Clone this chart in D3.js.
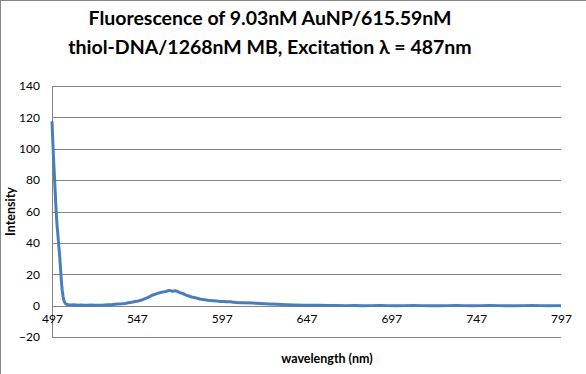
<!DOCTYPE html>
<html>
<head>
<meta charset="utf-8">
<script src="https://cdn.jsdelivr.net/npm/d3@7"></script>
<style>
  body { margin: 0; background: #fff; }
  text { font-family: Lato, "Open Sans", sans-serif; fill: #000; }
  .grid line { stroke: #868686; stroke-width: 1; }
</style>
</head>
<body>
<div class="chart"></div>
<script>

var titleLines = ["Fluorescence of 9.03nM AuNP/615.59nM", "thiol-DNA/1268nM MB, Excitation \u03bb = 487nm"];
var xTicks = [497, 547, 597, 647, 697, 747, 797];
var yTicks = [-20, 0, 20, 40, 60, 80, 100, 120, 140];

var wavelength = [
  497, 497.5, 498, 498.5, 499, 499.5, 500, 500.5, 501, 501.5, 502, 502.5, 503, 503.5, 504, 504.5, 505, 506, 507,
  508, 510, 512, 514, 516, 518, 520, 522, 524, 526, 528, 530, 532, 534, 536,
  538, 540, 542, 544, 546, 548, 550, 552, 554, 556, 558, 560, 562, 564, 566, 568, 570, 572, 574, 576, 578,
  580, 582, 584, 586, 588, 590, 592, 594, 596, 598, 600, 602, 604, 606, 608, 610,
  615, 620, 625, 630, 635, 640, 645, 650, 655, 660, 665, 670, 675, 680, 685, 690, 695, 700, 705, 710,
  715, 720, 725, 730, 735, 740, 745, 750, 755, 760, 765, 770, 775, 780, 785, 790, 795, 797
];
var intensity = [
  117.5, 104, 92, 81, 70, 59, 51, 45, 38, 32, 24, 16, 10, 6, 3.5, 2, 1.2, 0.7, 0.5,
  0.4, 0.5, 0.3, 0.4, 0.2, 0.3, 0.4, 0.2, 0.3, 0.3, 0.4, 0.5, 0.6, 0.9, 1.1,
  1.2, 1.4, 1.8, 2.1, 2.6, 3.0, 3.6, 4.5, 5.4, 6.6, 7.3, 8.1, 8.6, 9.0, 9.7, 9.2, 9.5, 8.4, 7.8, 6.7, 6.0,
  5.3, 4.9, 4.2, 3.9, 3.6, 3.2, 3.1, 2.9, 2.7, 2.6, 2.4, 2.4, 2.2, 2.0, 1.9, 1.8,
  1.6, 1.3, 1.0, 0.8, 0.6, 0.4, 0.3, 0.2, 0.2, 0.1, 0.1, 0.0, 0.1, -0.1, 0.0, 0.1, 0.0, -0.1, 0.0, 0.1,
  0.0, 0.0, -0.1, 0.0, 0.1, 0.0, -0.1, 0.0, 0.1, 0.0, 0.0, -0.1, 0.0, 0.1, 0.0, -0.1, 0.0, 0.0
];

var svgWidth = 586;
var svgHeight = 374;

var margin = { top: 86, right: 25, bottom: 37, left: 52 };
var width = 561 - margin.left;
var height = 337 - margin.top;

var svg = d3
  .select(".chart")
  .append("svg")
  .attr("width", svgWidth)
  .attr("height", svgHeight);

// chart border (only left and top show in the crop)
svg
  .append("rect")
  .attr("x", 0.5)
  .attr("y", 0.5)
  .attr("width", svgWidth + 20)
  .attr("height", svgHeight + 20)
  .attr("fill", "none")
  .attr("stroke", "#868686");

svg
  .selectAll(".title")
  .data(titleLines)
  .enter()
  .append("text")
  .attr("class", "title")
  .attr("x", 270)
  .attr("y", function(d, i) { return 25 + i * 29; })
  .attr("text-anchor", "middle")
  .style("font-weight", "bold")
  .style("font-size", "19.5px")
  .text(function(d) { return d; });

var chart = svg
  .append("g")
  .attr("transform", "translate(" + margin.left + "," + margin.top + ")");

var xScale = d3.scaleLinear().domain([497, 797]).range([0, width]);
var yScale = d3.scaleLinear().domain([-20, 140]).range([height, 0]);

// horizontal gridlines incl. the -20 line and the zero axis line
chart
  .append("g")
  .attr("class", "grid")
  .selectAll("line")
  .data(yTicks)
  .enter()
  .append("line")
  .attr("x1", 0)
  .attr("x2", width)
  .attr("y1", function(d) { return Math.round(yScale(d)) + 0.5; })
  .attr("y2", function(d) { return Math.round(yScale(d)) + 0.5; });

// vertical axis line
chart
  .append("line")
  .attr("x1", 0.5)
  .attr("x2", 0.5)
  .attr("y1", 0)
  .attr("y2", height)
  .attr("stroke", "#868686");

var leftAxis = d3.axisLeft(yScale).tickValues(yTicks).tickSize(0).tickPadding(12);
var bottomAxis = d3.axisBottom(xScale).tickValues(xTicks).tickSize(0).tickPadding(9);

var yAxisG = chart.append("g").call(leftAxis);
yAxisG.select(".domain").remove();
yAxisG.selectAll("text").style("font-size", "12px").style("font-family", "Lato, sans-serif");

var xAxisG = chart
  .append("g")
  .attr("transform", "translate(0," + yScale(0) + ")")
  .call(bottomAxis);
xAxisG.select(".domain").remove();
xAxisG.selectAll("text").style("font-size", "12px").style("font-family", "Lato, sans-serif");

var points = wavelength.map(function(w, i) { return [w, intensity[i]]; });

var line = d3
  .line()
  .x(function(d) { return xScale(d[0]); })
  .y(function(d) { return yScale(d[1]); });

chart
  .append("path")
  .datum(points)
  .attr("d", line)
  .attr("fill", "none")
  .attr("stroke", "#4a7ebb")
  .attr("stroke-width", 3)
  .attr("stroke-linejoin", "round");

svg
  .append("text")
  .attr("transform", "translate(15," + (margin.top + height / 2) + ") rotate(-90)")
  .attr("text-anchor", "middle")
  .style("font-weight", "bold")
  .style("font-size", "12.5px")
  .text("Intensity");

svg
  .append("text")
  .attr("x", 327)
  .attr("y", 363)
  .attr("text-anchor", "middle")
  .style("font-weight", "bold")
  .style("font-size", "12.5px")
  .text("wavelength (nm)");

</script>
</body>
</html>
